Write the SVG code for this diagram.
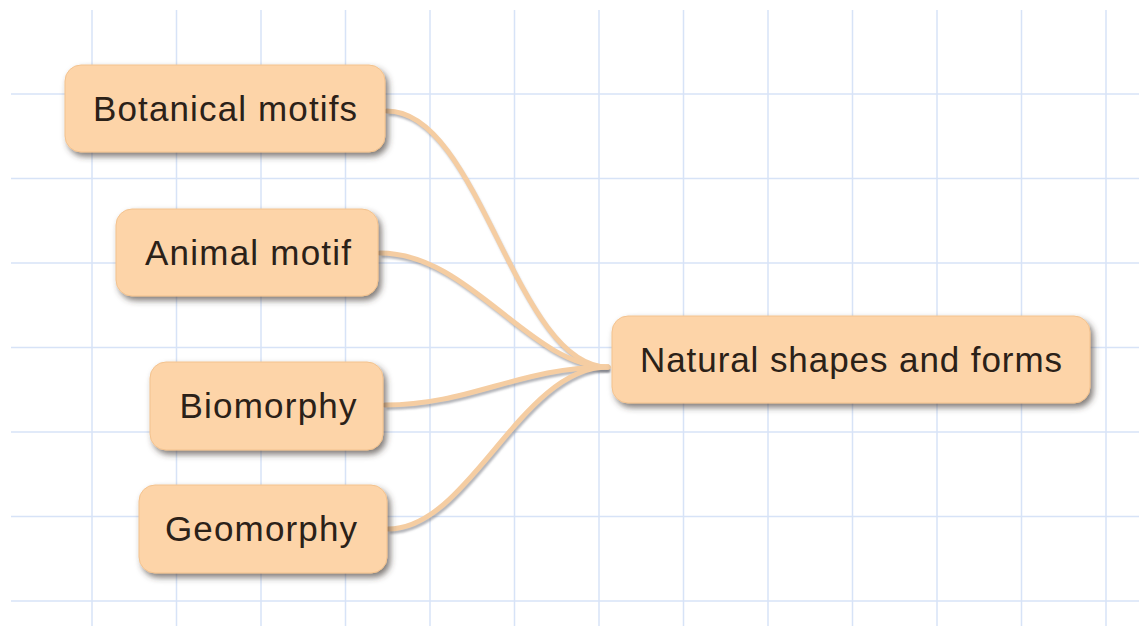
<svg xmlns="http://www.w3.org/2000/svg" width="1139" height="626" viewBox="0 0 1139 626">
  <defs>
    <filter id="nodeShadow" x="-10%" y="-20%" width="125%" height="150%">
      <feDropShadow dx="3" dy="4" stdDeviation="3" flood-color="#3f3630" flood-opacity="0.65"/>
    </filter>
    <filter id="linkShadow" x="-10%" y="-10%" width="130%" height="130%">
      <feGaussianBlur stdDeviation="1.2"/>
    </filter>
  </defs>
  <style>
    .grid line { stroke: #d7e3f7; stroke-width: 1.5; }
    .node rect { fill: #fdd4a8; stroke: #f3c28e; stroke-width: 1; filter: url(#nodeShadow); }
    .node text { font-family: "Liberation Sans", Arial, sans-serif; font-size: 35px; fill: #2b2118; text-anchor: middle; }
    .link-shadow { fill: none; stroke: #80828a; stroke-width: 4; stroke-opacity: 0.6; filter: url(#linkShadow); }
    .link { fill: none; stroke: #f5cda2; stroke-width: 5; stroke-linecap: round; }
  </style>

  <rect width="1139" height="626" fill="#ffffff"/>

  <!-- background grid -->
  <g class="grid">
    <line x1="92" y1="10" x2="92" y2="626"/>
    <line x1="176.5" y1="10" x2="176.5" y2="626"/>
    <line x1="261" y1="10" x2="261" y2="626"/>
    <line x1="345.5" y1="10" x2="345.5" y2="626"/>
    <line x1="430" y1="10" x2="430" y2="626"/>
    <line x1="514.5" y1="10" x2="514.5" y2="626"/>
    <line x1="599" y1="10" x2="599" y2="626"/>
    <line x1="683.5" y1="10" x2="683.5" y2="626"/>
    <line x1="768" y1="10" x2="768" y2="626"/>
    <line x1="852.5" y1="10" x2="852.5" y2="626"/>
    <line x1="937" y1="10" x2="937" y2="626"/>
    <line x1="1021.5" y1="10" x2="1021.5" y2="626"/>
    <line x1="1106" y1="10" x2="1106" y2="626"/>
    <line x1="11" y1="94" x2="1139" y2="94"/>
    <line x1="11" y1="178.5" x2="1139" y2="178.5"/>
    <line x1="11" y1="263" x2="1139" y2="263"/>
    <line x1="11" y1="347.5" x2="1139" y2="347.5"/>
    <line x1="11" y1="432" x2="1139" y2="432"/>
    <line x1="11" y1="516.5" x2="1139" y2="516.5"/>
    <line x1="11" y1="601" x2="1139" y2="601"/>
  </g>

  <!-- connectors -->
  <g id="connectors">
    <g transform="translate(1.5,3)">
      <path class="link-shadow" d="M387,111 C480,111 515,367 608,367"/>
      <path class="link-shadow" d="M380,253 C470,253 530,367 608,367"/>
      <path class="link-shadow" d="M385,405 C470,405 520,367 608,367"/>
      <path class="link-shadow" d="M388,529 C470,529 520,367 608,367"/>
    </g>
    <path class="link" d="M387,111 C480,111 515,367 608,367"/>
    <path class="link" d="M380,253 C470,253 530,367 608,367"/>
    <path class="link" d="M385,405 C470,405 520,367 608,367"/>
    <path class="link" d="M388,529 C470,529 520,367 608,367"/>
  </g>

  <!-- nodes -->
  <g id="node-botanical" class="node">
    <rect x="65" y="65" width="320" height="87" rx="16"/>
    <text x="225" y="121" textLength="264" lengthAdjust="spacing">Botanical motifs</text>
  </g>
  <g id="node-animal" class="node">
    <rect x="116" y="209" width="262" height="87" rx="16"/>
    <text x="248" y="265" textLength="206" lengthAdjust="spacing">Animal motif</text>
  </g>
  <g id="node-biomorphy" class="node">
    <rect x="150" y="362" width="233" height="88" rx="16"/>
    <text x="268" y="418" textLength="177" lengthAdjust="spacing">Biomorphy</text>
  </g>
  <g id="node-geomorphy" class="node">
    <rect x="139" y="485" width="248" height="88" rx="16"/>
    <text x="261" y="541" textLength="192" lengthAdjust="spacing">Geomorphy</text>
  </g>
  <g id="node-natural" class="node">
    <rect x="612" y="316" width="478" height="87" rx="16"/>
    <text x="851" y="372" textLength="422" lengthAdjust="spacing">Natural shapes and forms</text>
  </g>
</svg>
